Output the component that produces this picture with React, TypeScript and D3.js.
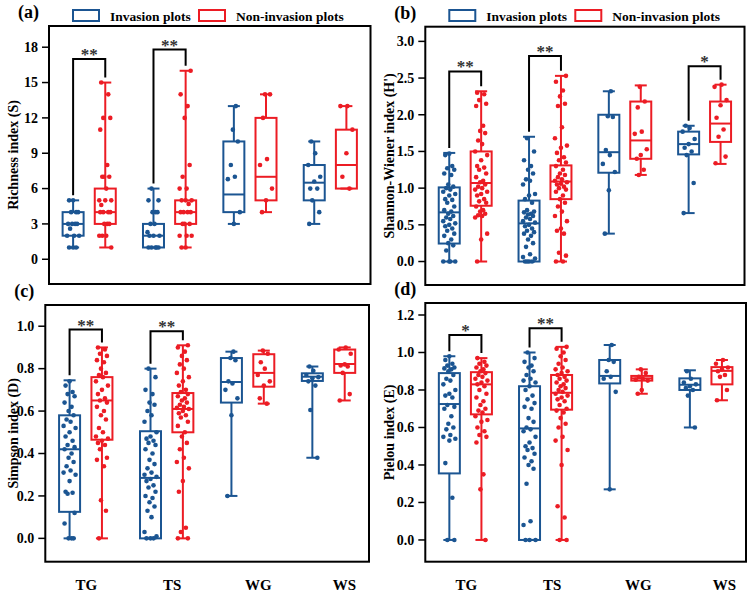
import * as d3 from 'd3';

// categories
const sites = ['TG', 'TS', 'WG', 'WS'];
const plotTypes = ['Invasion plots', 'Non-invasion plots'];
const plotColors = ['#1b5592', '#ec1c24'];

// box stats per site: [min, q1, median, q3, max]
const richBoxInv = [[1, 2, 3, 4, 5], [1, 1, 2, 3, 6], [3, 4, 5.5, 10, 13], [3, 5, 6.5, 8, 10]];
const richBoxNon = [[1, 3, 4, 6, 15], [1, 3, 4, 5, 16], [4, 5, 7, 12, 14], [6, 6, 8, 11, 13]];
const richPtsInv = [
  [5, 5, 4, 4, 4, 3, 3, 3, 3, 2.6, 2, 2, 2, 1, 1, 1],
  [6, 5, 5, 4, 4, 4, 3, 3, 2.3, 2, 2, 2, 1, 1, 1, 1, 1],
  [13, 11, 10, 8, 7, 6.8, 4, 3],
  [10, 9, 8, 7, 6.6, 6, 6, 5, 4, 3],
];
const richPtsNon = [
  [15, 14, 12, 12, 11, 8, 7, 7, 7, 6, 5, 5, 5, 4.6, 4, 4, 4, 4, 3, 3, 3, 2, 2, 2, 1],
  [16, 14, 13, 12, 8, 7, 6, 6, 5, 5, 5, 4.7, 4, 4, 4, 4, 3, 3, 3, 2, 2, 2, 1, 1],
  [14, 14, 12, 8.5, 8, 6, 5, 4],
  [13, 13, 11, 9, 7, 6],
];

const shanBoxInv = [[0, 0.245, 0.67, 1.01, 1.48], [0, 0, 0.52, 0.83, 1.7], [0.38, 1.21, 1.49, 2.0, 2.32], [0.66, 1.46, 1.6, 1.77, 1.85]];
const shanBoxNon = [[0, 0.76, 1.07, 1.5, 2.32], [0, 0.85, 1.09, 1.31, 2.53], [1.18, 1.4, 1.65, 2.18, 2.4], [1.33, 1.63, 1.88, 2.18, 2.41]];
const shanPtsInv = [
  [1.47, 1.45, 1.3, 1.27, 1.25, 1.2, 1.18, 1.05, 1.02, 1.0, 0.98, 0.95, 0.92, 0.9, 0.85, 0.84, 0.8, 0.75, 0.7, 0.68, 0.65, 0.62, 0.6, 0.58, 0.55, 0.52, 0.5, 0.48, 0.45, 0.42, 0.38, 0.35, 0.3, 0.25, 0.22, 0.15, 0, 0, 0, 0],
  [1.68, 1.5, 1.38, 1.3, 1.25, 1.2, 1.12, 1.1, 1.05, 0.92, 0.9, 0.85, 0.8, 0.7, 0.68, 0.67, 0.65, 0.64, 0.62, 0.6, 0.58, 0.55, 0.53, 0.5, 0.48, 0.45, 0.42, 0.4, 0.38, 0.35, 0.3, 0.25, 0.2, 0.1, 0.06, 0.04, 0, 0, 0, 0],
  [2.32, 1.98, 1.97, 1.52, 1.45, 1.33, 1.22, 0.97, 0.38],
  [1.85, 1.82, 1.77, 1.67, 1.6, 1.55, 1.5, 1.45, 1.07, 0.66],
];
const shanPtsNon = [
  [2.3, 2.28, 2.2, 2.15, 2.12, 1.85, 1.78, 1.75, 1.65, 1.6, 1.5, 1.45, 1.38, 1.3, 1.28, 1.25, 1.2, 1.15, 1.1, 1.08, 1.05, 1.02, 1.0, 0.98, 0.95, 0.92, 0.9, 0.85, 0.82, 0.8, 0.75, 0.7, 0.68, 0.65, 0.63, 0.62, 0.6, 0.38, 0.3, 0],
  [2.53, 2.45, 2.33, 2.25, 2.15, 2.12, 1.83, 1.68, 1.58, 1.55, 1.48, 1.42, 1.38, 1.35, 1.3, 1.25, 1.2, 1.18, 1.15, 1.12, 1.1, 1.08, 1.06, 1.05, 1.02, 1.0, 0.98, 0.95, 0.9, 0.85, 0.8, 0.75, 0.68, 0.62, 0.55, 0.45, 0.42, 0.38, 0.12, 0.08, 0, 0],
  [2.38, 2.18, 2.1, 1.77, 1.74, 1.53, 1.45, 1.4, 1.25, 1.18],
  [2.41, 2.38, 2.2, 2.13, 1.96, 1.8, 1.7, 1.43, 1.34],
];

const simpBoxInv = [[0, 0.125, 0.42, 0.58, 0.745], [0, 0, 0.285, 0.505, 0.8], [0.2, 0.64, 0.737, 0.85, 0.88], [0.38, 0.742, 0.762, 0.778, 0.81]];
const simpBoxNon = [[0, 0.465, 0.65, 0.76, 0.9], [0, 0.5, 0.61, 0.685, 0.91], [0.635, 0.715, 0.78, 0.868, 0.885], [0.65, 0.78, 0.822, 0.89, 0.9]];
const simpPtsInv = [
  [0.74, 0.72, 0.69, 0.68, 0.67, 0.64, 0.62, 0.6, 0.58, 0.56, 0.55, 0.53, 0.52, 0.5, 0.48, 0.46, 0.44, 0.43, 0.42, 0.4, 0.38, 0.36, 0.34, 0.32, 0.31, 0.3, 0.27, 0.22, 0.215, 0.21, 0.12, 0.07, 0, 0, 0],
  [0.8, 0.76, 0.7, 0.68, 0.64, 0.63, 0.6, 0.58, 0.55, 0.5, 0.48, 0.47, 0.46, 0.45, 0.44, 0.42, 0.4, 0.37, 0.35, 0.33, 0.31, 0.3, 0.29, 0.28, 0.27, 0.25, 0.24, 0.22, 0.2, 0.19, 0.17, 0.15, 0.13, 0.1, 0.03, 0.01, 0, 0, 0],
  [0.88, 0.85, 0.84, 0.74, 0.73, 0.7, 0.66, 0.58, 0.2],
  [0.81, 0.79, 0.77, 0.76, 0.755, 0.74, 0.72, 0.605, 0.38],
];
const simpPtsNon = [
  [0.9, 0.89, 0.87, 0.86, 0.84, 0.83, 0.8, 0.78, 0.77, 0.76, 0.74, 0.72, 0.7, 0.68, 0.66, 0.65, 0.64, 0.62, 0.6, 0.58, 0.56, 0.52, 0.5, 0.48, 0.47, 0.46, 0.45, 0.44, 0.42, 0.38, 0.37, 0.34, 0.18, 0.13, 0],
  [0.91, 0.9, 0.88, 0.86, 0.84, 0.82, 0.8, 0.78, 0.76, 0.74, 0.72, 0.7, 0.69, 0.68, 0.67, 0.66, 0.65, 0.64, 0.63, 0.62, 0.615, 0.61, 0.6, 0.59, 0.58, 0.57, 0.55, 0.53, 0.5, 0.48, 0.45, 0.42, 0.38, 0.36, 0.33, 0.27, 0.22, 0.05, 0.03, 0, 0],
  [0.885, 0.87, 0.83, 0.8, 0.77, 0.74, 0.72, 0.66, 0.635],
  [0.9, 0.89, 0.87, 0.82, 0.815, 0.81, 0.78, 0.68, 0.65],
];

const pielBoxInv = [[0, 0.355, 0.725, 0.89, 0.98], [0, 0, 0.595, 0.82, 1.0], [0.27, 0.835, 0.875, 0.96, 1.04], [0.6, 0.8, 0.828, 0.862, 0.905]];
const pielBoxNon = [[0, 0.67, 0.83, 0.895, 0.97], [0, 0.695, 0.785, 0.88, 1.03], [0.78, 0.85, 0.862, 0.875, 0.91], [0.745, 0.83, 0.902, 0.922, 0.96]];
const pielPtsInv = [
  [0.98, 0.96, 0.94, 0.93, 0.92, 0.915, 0.91, 0.9, 0.88, 0.86, 0.85, 0.83, 0.8, 0.78, 0.77, 0.76, 0.72, 0.71, 0.7, 0.66, 0.62, 0.6, 0.59, 0.56, 0.55, 0.54, 0.53, 0.41, 0.225, 0, 0],
  [1.0, 0.97, 0.95, 0.93, 0.92, 0.9, 0.88, 0.86, 0.85, 0.84, 0.82, 0.8, 0.77, 0.75, 0.73, 0.71, 0.7, 0.65, 0.63, 0.6, 0.59, 0.58, 0.55, 0.52, 0.5, 0.49, 0.48, 0.46, 0.44, 0.42, 0.4, 0.38, 0.3, 0.1, 0.08, 0, 0, 0],
  [1.04, 0.96, 0.95, 0.9, 0.87, 0.86, 0.79, 0.27],
  [0.9, 0.86, 0.84, 0.83, 0.82, 0.81, 0.8, 0.77, 0.6],
];
const pielPtsNon = [
  [0.97, 0.95, 0.94, 0.93, 0.92, 0.91, 0.9, 0.89, 0.88, 0.87, 0.86, 0.85, 0.84, 0.83, 0.82, 0.8, 0.78, 0.76, 0.74, 0.72, 0.7, 0.69, 0.68, 0.66, 0.64, 0.63, 0.6, 0.58, 0.56, 0.55, 0.52, 0.35, 0.27, 0],
  [1.03, 1.02, 1.0, 0.98, 0.96, 0.94, 0.92, 0.91, 0.9, 0.89, 0.88, 0.87, 0.86, 0.85, 0.84, 0.83, 0.82, 0.81, 0.8, 0.79, 0.78, 0.77, 0.76, 0.75, 0.74, 0.72, 0.7, 0.69, 0.68, 0.65, 0.62, 0.6, 0.55, 0.53, 0.48, 0.4, 0.18, 0.12, 0, 0],
  [0.91, 0.89, 0.87, 0.86, 0.855, 0.85, 0.8, 0.78],
  [0.96, 0.94, 0.92, 0.91, 0.9, 0.88, 0.87, 0.8, 0.745],
];

// significance brackets: site, bracket level, label
const richSig = [{ site: 'TG', level: 17.0, label: '**' }, { site: 'TS', level: 17.8, label: '**' }];
const shanSig = [{ site: 'TG', level: 2.59, label: '**' }, { site: 'TS', level: 2.8, label: '**' }, { site: 'WS', level: 2.66, label: '*' }];
const simpSig = [{ site: 'TG', level: 0.984, label: '**' }, { site: 'TS', level: 0.976, label: '**' }];
const pielSig = [{ site: 'TG', level: 1.093, label: '*' }, { site: 'TS', level: 1.129, label: '**' }];

// horizontal scatter offsets for the jittered points (px)
const jitter = [0, -4, 3, -2, 5, -5, 2, -1, 4, -3, 1, -6, 6];

const FONT = '"Liberation Serif", "Times New Roman", serif';

interface Sig { site: string; level: number; label: string }

interface PanelProps {
  tag: string;
  yTitle: string;
  x: number;
  y: number;
  w: number;
  h: number;
  domain: [number, number];
  ticks: number[];
  fmt: (v: number) => string;
  boxes: number[][][];
  points: number[][][];
  sigs: Sig[];
  legend?: boolean;
  xLabels?: boolean;
  titleX: number;
}

function Panel(p: PanelProps) {
  const y = d3.scaleLinear().domain(p.domain).range([p.y + p.h, p.y]);
  const xSite = d3.scaleBand<string>().domain(sites).range([p.x, p.x + p.w]);
  const xPlot = d3.scalePoint<string>().domain(plotTypes).range([0, xSite.bandwidth()]).padding(0.75);
  const xLab = d3.scalePoint<string>().domain(sites).range([p.x + 41, p.x + 299]);
  const cx = (s: string, t: string) => (xSite(s) ?? 0) + (xPlot(t) ?? 0);
  const boxW = 21;
  const capW = 12;

  return (
    <g>
      <text x={p.x - 31} y={p.y - 8} fontFamily={FONT} fontWeight="bold" fontSize={18}>{p.tag}</text>

      {p.legend && plotTypes.map((t, i) => {
        const lx = p.x + (i === 0 ? 24 : 150);
        return (
          <g key={t}>
            <rect x={lx} y={10} width={26} height={11} fill="none" stroke={plotColors[i]} strokeWidth={2} />
            <text x={lx + 37} y={20.5} fontFamily={FONT} fontWeight="bold" fontSize={13.5}>{t}</text>
          </g>
        );
      })}

      {/* y axis */}
      {p.ticks.map(t => (
        <g key={t}>
          <line x1={p.x - 7} x2={p.x} y1={y(t)} y2={y(t)} stroke="#000" strokeWidth={1.5} />
          <text x={p.x - 11} y={y(t)} dy="0.34em" textAnchor="end" fontFamily={FONT} fontWeight="bold" fontSize={14}>{p.fmt(t)}</text>
        </g>
      ))}
      <text
        transform={`translate(${p.titleX},${p.y + p.h / 2}) rotate(-90)`}
        textAnchor="middle"
        fontFamily={FONT}
        fontWeight="bold"
        fontSize={14}
      >{p.yTitle}</text>

      {/* boxes, whiskers and points */}
      {sites.map((s, si) => plotTypes.map((t, ti) => {
        const [mn, q1, md, q3, mx] = p.boxes[ti][si];
        const c = cx(s, t);
        const col = plotColors[ti];
        return (
          <g key={s + t} stroke={col} strokeWidth={2}>
            <line x1={c} x2={c} y1={y(mn)} y2={y(q1)} />
            <line x1={c} x2={c} y1={y(q3)} y2={y(mx)} />
            <line x1={c - capW / 2} x2={c + capW / 2} y1={y(mn)} y2={y(mn)} />
            <line x1={c - capW / 2} x2={c + capW / 2} y1={y(mx)} y2={y(mx)} />
            <rect x={c - boxW / 2} y={y(q3)} width={boxW} height={Math.max(1, y(q1) - y(q3))} fill="none" />
            <line x1={c - boxW / 2} x2={c + boxW / 2} y1={y(md)} y2={y(md)} />
            {p.points[ti][si].map((v, i) => (
              <circle key={i} cx={c + jitter[(i + si * 3 + ti) % jitter.length]} cy={y(v)} r={2.3} fill={col} stroke="none" />
            ))}
          </g>
        );
      }))}

      {/* significance brackets */}
      {p.sigs.map(sg => {
        const si = sites.indexOf(sg.site);
        const x0 = cx(sg.site, plotTypes[0]);
        const x1 = cx(sg.site, plotTypes[1]);
        const yl = y(sg.level);
        const y0 = y(p.boxes[0][si][4]) - 5;
        const y1 = y(p.boxes[1][si][4]) - 5;
        return (
          <g key={sg.site}>
            <path d={`M${x0},${y0}V${yl}H${x1}V${y1}`} fill="none" stroke="#000" strokeWidth={2} />
            <text x={(x0 + x1) / 2} y={yl + 1} textAnchor="middle" fontFamily={FONT} fontWeight="bold" fontSize={17} fill="#333">{sg.label}</text>
          </g>
        );
      })}

      <rect x={p.x} y={p.y} width={p.w} height={p.h} fill="none" stroke="#000" strokeWidth={2} />

      {p.xLabels && sites.map(s => (
        <text key={s} x={xLab(s)} y={590} textAnchor="middle" fontFamily={FONT} fontWeight="bold" fontSize={15}>{s}</text>
      ))}
    </g>
  );
}

const fmtInt = (v: number) => d3.format('d')(v);
const fmt1 = (v: number) => d3.format('.1f')(v);

export default function App() {
  return (
    <svg width={753} height={597} style={{ position: 'absolute', left: 0, top: 0, background: '#fff' }}>
      <Panel tag="(a)" yTitle="Richness index (S)" x={49} y={26} w={321.5} h={258} titleX={18}
        domain={[-2.1, 19.8]} ticks={d3.range(0, 19, 3)} fmt={fmtInt}
        boxes={[richBoxInv, richBoxNon]} points={[richPtsInv, richPtsNon]} sigs={richSig} legend />
      <Panel tag="(b)" yTitle="Shannon-Wiener index (H')" x={425.3} y={26.7} w={319.2} h={258.3} titleX={394}
        domain={[-0.32, 3.2]} ticks={d3.range(0, 3.01, 0.5)} fmt={fmt1}
        boxes={[shanBoxInv, shanBoxNon]} points={[shanPtsInv, shanPtsNon]} sigs={shanSig} legend />
      <Panel tag="(c)" yTitle="Simpson index (D)" x={45.3} y={305} w={323.7} h={256.7} titleX={18}
        domain={[-0.11, 1.1]} ticks={d3.range(0, 1.01, 0.2)} fmt={fmt1}
        boxes={[simpBoxInv, simpBoxNon]} points={[simpPtsInv, simpPtsNon]} sigs={simpSig} xLabels />
      <Panel tag="(d)" yTitle="Pielou index (E)" x={425.3} y={303} w={320.7} h={258.7} titleX={394}
        domain={[-0.116, 1.264]} ticks={d3.range(0, 1.21, 0.2)} fmt={fmt1}
        boxes={[pielBoxInv, pielBoxNon]} points={[pielPtsInv, pielPtsNon]} sigs={pielSig} xLabels />
    </svg>
  );
}
